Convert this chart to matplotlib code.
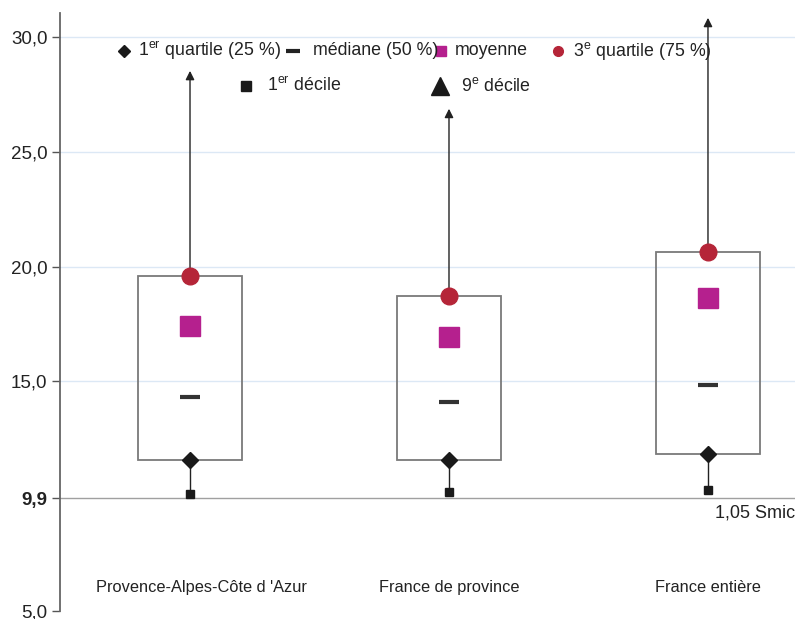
import numpy as np
import matplotlib.pyplot as plt

plt.rcParams['font.family'] = ['Liberation Sans', 'DejaVu Sans']
plt.rcParams['mathtext.fontset'] = 'custom'
plt.rcParams['mathtext.rm'] = 'Liberation Sans'

# data (hourly wage, euros)
regions = ["Provence-Alpes-Côte d 'Azur", "France de province", "France entière"]
decile1 = [10.09, 10.17, 10.26]
quartile1 = [11.57, 11.57, 11.83]
mediane = [14.30, 14.09, 14.83]
moyenne = [17.43, 16.91, 18.61]
quartile3 = [19.57, 18.70, 20.65]
decile9 = [28.52, 26.87, 30.83]
smic = 9.9
yticks = [5.0, 9.9, 15.0, 20.0, 25.0, 30.0]

fig = plt.figure(figsize=(8.07, 6.19), dpi=100)
ax = fig.add_axes([60/807, 1 - 611/619, (795 - 60)/807, (611 - 13)/619])

x = np.arange(len(regions))
box_w = 0.40

#grid lines
for g in [15, 20, 25, 30]:
    ax.axhline(g, color='#dce8f5', lw=1, zorder=0)

#the 1,05 smic line
ax.axhline(smic, color='#a0a0a0', lw=1, zorder=1)

for i in x:
    #box between the quartiles
    ax.add_patch(plt.Rectangle((i - box_w/2, quartile1[i]), box_w,
                               quartile3[i] - quartile1[i], fill=False,
                               edgecolor='#7a7a7a', lw=1.3, zorder=2))
    #lower whisker
    ax.plot([i, i], [decile1[i], quartile1[i]], color='#222222', lw=1, zorder=2)
    #upper whisker with arrow
    ax.annotate('', xy=(i, decile9[i]), xytext=(i, quartile3[i]),
                arrowprops=dict(arrowstyle='-|>', color='#222222', lw=1,
                                mutation_scale=13, shrinkA=0, shrinkB=0),
                zorder=2)

ax.plot(x, decile1, 's', color='#1a1a1a', ms=6, zorder=3, clip_on=False)
ax.plot(x, quartile1, 'D', color='#1a1a1a', ms=8, zorder=3)
ax.plot(x, mediane, '_', color='#333333', ms=15, mew=3, zorder=3)
ax.plot(x, moyenne, 's', color='#b5208e', ms=14, zorder=3)
ax.plot(x, quartile3, 'o', color='#b52538', ms=12, zorder=3)

#legend drawn by hand
ly1, ly2 = 29.39, 27.87
fs = 12.8
tc = '#222222'
ax.plot(-0.255, ly1, 'D', color='#1a1a1a', ms=6)
ax.text(-0.20, ly1, r"1$^{\mathrm{er}}$ quartile (25 %)", fontsize=fs, va='center', color=tc)
ax.plot(0.398, ly1, '_', color='#222222', ms=10, mew=3)
ax.text(0.475, ly1, "médiane (50 %)", fontsize=fs, va='center', color=tc)
ax.plot(0.969, ly1, 's', color='#b5208e', ms=7)
ax.text(1.023, ly1, "moyenne", fontsize=fs, va='center', color=tc)
ax.plot(1.421, ly1, 'o', color='#b52538', ms=7)
ax.text(1.479, ly1, r"3$^{\mathrm{e}}$ quartile (75 %)", fontsize=fs, va='center', color=tc)
ax.plot(0.216, ly2, 's', color='#1a1a1a', ms=7)
ax.text(0.297, ly2, r"1$^{\mathrm{er}}$ décile", fontsize=fs, va='center', color=tc)
ax.plot(0.965, ly2, '^', color='#1a1a1a', ms=13)
ax.text(1.046, ly2, r"9$^{\mathrm{e}}$ décile", fontsize=fs, va='center', color=tc)

#category labels inside the plot (first one sits a bit to the right)
label_shift = [0.043, 0.0, 0.0]
for i, r in enumerate(regions):
    ax.text(i + label_shift[i], 6.04, r, ha='center', va='center', fontsize=11.8, color=tc)

ax.text(2.336, 9.26, "1,05 Smic", ha='right', va='center', fontsize=13, color=tc)

ax.set_xlim(-0.502, 2.336)
ax.set_ylim(5, 31.04)
ax.set_xticks([])
ax.set_yticks(yticks)
ax.set_yticklabels([f"{v:.1f}".replace('.', ',') for v in yticks], fontsize=13.5, color=tc)
ax.get_yticklabels()[1].set_fontweight('bold')
ax.tick_params(axis='y', length=6, color='#555555', width=1, pad=3)
for s in ['top', 'right', 'bottom']:
    ax.spines[s].set_visible(False)
ax.spines['left'].set_color('#666666')
ax.spines['left'].set_linewidth(1.3)

plt.savefig('out.png', dpi=100)
